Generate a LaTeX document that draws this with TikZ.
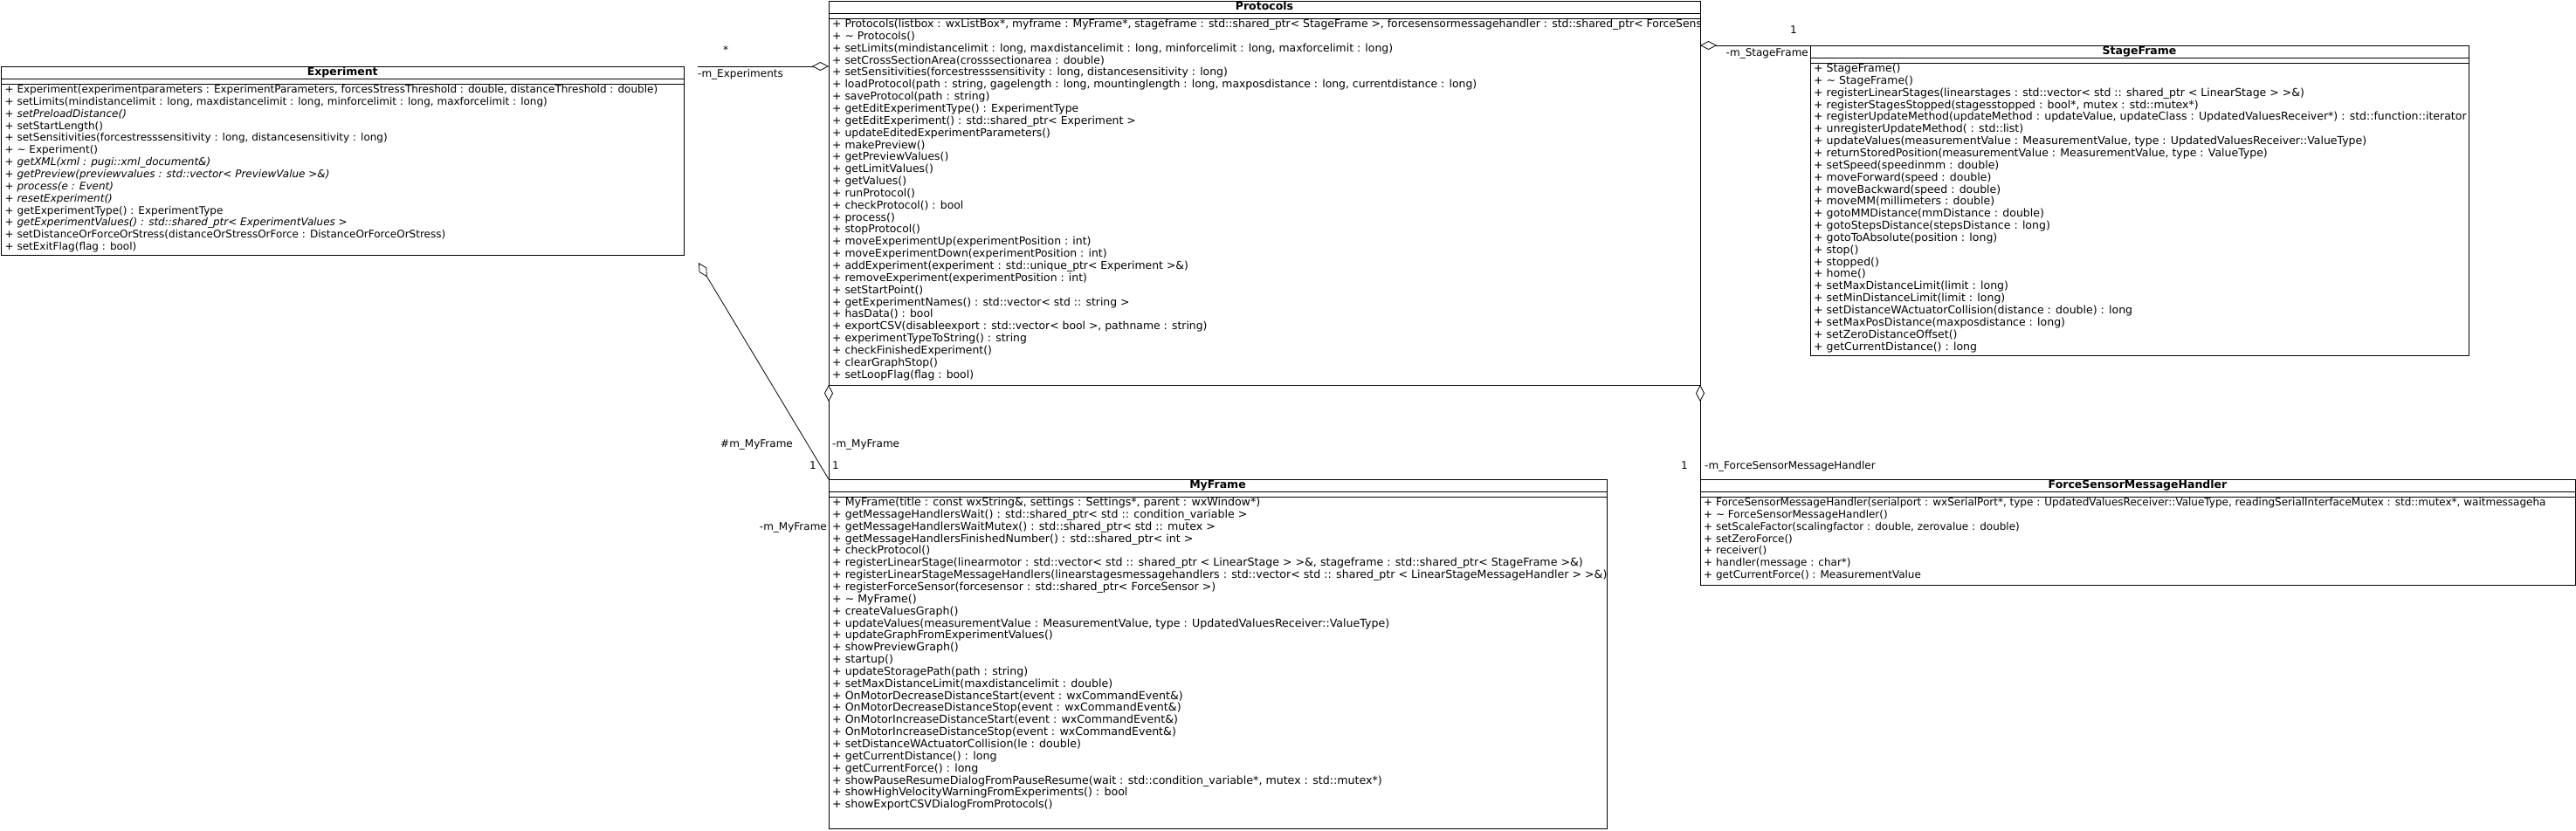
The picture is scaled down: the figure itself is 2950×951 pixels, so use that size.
\documentclass[tikz,border=0pt]{standalone}
\usepackage{fontspec}
\setmainfont{DejaVu Sans}
\usetikzlibrary{arrows.meta,fit}
\def\mfs{12}
\tikzset{
  classbox/.style={draw, line width=1pt, inner sep=0pt, outer sep=0pt, rectangle},
  sepline/.style={line width=1pt},
  mtext/.style={anchor=west, inner sep=0pt, text height=9pt, text depth=3pt, font=\fontsize{\mfs pt}{14pt}\selectfont},
  ctitle/.style={inner sep=0pt, text height=9pt, text depth=3pt, font=\fontsize{12.5pt}{14pt}\selectfont\bfseries},
  lbl/.style={inner sep=0pt, text height=9pt, text depth=3pt, font=\fontsize{12pt}{14pt}\selectfont},
  conn/.style={line width=0.8pt},
  agg/.style={conn, {Diamond[open, length=19pt, width=10pt]}-},
}
\newcommand\umlclass[7]{%
  \coordinate (#1-nw) at (#2,#3);
  \coordinate (#1-se) at (#4,#5);
  \node[classbox, fit=(#1-nw)(#1-se)] (#1) {};
  \draw[sepline] (#2,{#3+14}) -- (#4,{#3+14});
  \draw[sepline] (#2,{#3+20}) -- (#4,{#3+20});
  \node[ctitle] (#1-title) at ({(#2+#4)/2},{#3+7.5}) {#6};
  \begin{scope}
    \clip (#1-nw) rectangle (#1-se);
    \foreach \mt [count=\mi from 0] in {#7}
      \node[mtext] (#1-m\mi) at ({#2+4},{#3+27.5+13.85*\mi}) {\mt};
  \end{scope}
}
\begin{document}
\begin{tikzpicture}[x=1pt,y=-1pt]
\fill[white] (0,0) rectangle (2950,951);
\useasboundingbox (0,0) rectangle (2950,951);

\def\mfs{12}
\umlclass{exp}{1.5}{76}{783}{292}{Experiment}{%
{+ Experiment(experimentparameters : ExperimentParameters, forcesStressThreshold : double, distanceThreshold : double)},
{+ setLimits(mindistancelimit : long, maxdistancelimit : long, minforcelimit : long, maxforcelimit : long)},
{{\itshape + setPreloadDistance()}},
{+ setStartLength()},
{+ setSensitivities(forcestresssensitivity : long, distancesensitivity : long)},
{+ \textasciitilde{} Experiment()},
{{\itshape + getXML(xml : pugi::xml\_document\&)}},
{{\itshape + getPreview(previewvalues : std::vector< PreviewValue >\&)}},
{{\itshape + process(e : Event)}},
{{\itshape + resetExperiment()}},
{+ getExperimentType() : ExperimentType},
{{\itshape + getExperimentValues() : std::shared\_ptr< ExperimentValues >}},
{+ setDistanceOrForceOrStress(distanceOrStressOrForce : DistanceOrForceOrStress)},
{+ setExitFlag(flag : bool)}}

\def\mfs{12.4}
\umlclass{prot}{949}{1}{1947}{441}{Protocols}{%
{+ Protocols(listbox : wxListBox*, myframe : MyFrame*, stageframe : std::shared\_ptr< StageFrame >, forcesensormessagehandler : std::shared\_ptr< ForceSens},
{+ \textasciitilde{} Protocols()},
{+ setLimits(mindistancelimit : long, maxdistancelimit : long, minforcelimit : long, maxforcelimit : long)},
{+ setCrossSectionArea(crosssectionarea : double)},
{+ setSensitivities(forcestresssensitivity : long, distancesensitivity : long)},
{+ loadProtocol(path : string, gagelength : long, mountinglength : long, maxposdistance : long, currentdistance : long)},
{+ saveProtocol(path : string)},
{+ getEditExperimentType() : ExperimentType},
{+ getEditExperiment() : std::shared\_ptr< Experiment >},
{+ updateEditedExperimentParameters()},
{+ makePreview()},
{+ getPreviewValues()},
{+ getLimitValues()},
{+ getValues()},
{+ runProtocol()},
{+ checkProtocol() : bool},
{+ process()},
{+ stopProtocol()},
{+ moveExperimentUp(experimentPosition : int)},
{+ moveExperimentDown(experimentPosition : int)},
{+ addExperiment(experiment : std::unique\_ptr< Experiment >\&)},
{+ removeExperiment(experimentPosition : int)},
{+ setStartPoint()},
{+ getExperimentNames() : std::vector< std :: string >},
{+ hasData() : bool},
{+ exportCSV(disableexport : std::vector< bool >, pathname : string)},
{+ experimentTypeToString() : string},
{+ checkFinishedExperiment()},
{+ clearGraphStop()},
{+ setLoopFlag(flag : bool)}}

\def\mfs{12.5}
\umlclass{sf}{2073}{52}{2827}{407}{StageFrame}{%
{+ StageFrame()},
{+ \textasciitilde{} StageFrame()},
{+ registerLinearStages(linearstages : std::vector< std :: shared\_ptr < LinearStage > >\&)},
{+ registerStagesStopped(stagesstopped : bool*, mutex : std::mutex*)},
{+ registerUpdateMethod(updateMethod : updateValue, updateClass : UpdatedValuesReceiver*) : std::function::iterator},
{+ unregisterUpdateMethod( : std::list)},
{+ updateValues(measurementValue : MeasurementValue, type : UpdatedValuesReceiver::ValueType)},
{+ returnStoredPosition(measurementValue : MeasurementValue, type : ValueType)},
{+ setSpeed(speedinmm : double)},
{+ moveForward(speed : double)},
{+ moveBackward(speed : double)},
{+ moveMM(millimeters : double)},
{+ gotoMMDistance(mmDistance : double)},
{+ gotoStepsDistance(stepsDistance : long)},
{+ gotoToAbsolute(position : long)},
{+ stop()},
{+ stopped()},
{+ home()},
{+ setMaxDistanceLimit(limit : long)},
{+ setMinDistanceLimit(limit : long)},
{+ setDistanceWActuatorCollision(distance : double) : long},
{+ setMaxPosDistance(maxposdistance : long)},
{+ setZeroDistanceOffset()},
{+ getCurrentDistance() : long}}

\def\mfs{12.6}
\umlclass{myf}{949}{549}{1840}{949}{MyFrame}{%
{+ MyFrame(title : const wxString\&, settings : Settings*, parent : wxWindow*)},
{+ getMessageHandlersWait() : std::shared\_ptr< std :: condition\_variable >},
{+ getMessageHandlersWaitMutex() : std::shared\_ptr< std :: mutex >},
{+ getMessageHandlersFinishedNumber() : std::shared\_ptr< int >},
{+ checkProtocol()},
{+ registerLinearStage(linearmotor : std::vector< std :: shared\_ptr < LinearStage > >\&, stageframe : std::shared\_ptr< StageFrame >\&)},
{+ registerLinearStageMessageHandlers(linearstagesmessagehandlers : std::vector< std :: shared\_ptr < LinearStageMessageHandler > >\&)},
{+ registerForceSensor(forcesensor : std::shared\_ptr< ForceSensor >)},
{+ \textasciitilde{} MyFrame()},
{+ createValuesGraph()},
{+ updateValues(measurementValue : MeasurementValue, type : UpdatedValuesReceiver::ValueType)},
{+ updateGraphFromExperimentValues()},
{+ showPreviewGraph()},
{+ startup()},
{+ updateStoragePath(path : string)},
{+ setMaxDistanceLimit(maxdistancelimit : double)},
{+ OnMotorDecreaseDistanceStart(event : wxCommandEvent\&)},
{+ OnMotorDecreaseDistanceStop(event : wxCommandEvent\&)},
{+ OnMotorIncreaseDistanceStart(event : wxCommandEvent\&)},
{+ OnMotorIncreaseDistanceStop(event : wxCommandEvent\&)},
{+ setDistanceWActuatorCollision(le : double)},
{+ getCurrentDistance() : long},
{+ getCurrentForce() : long},
{+ showPauseResumeDialogFromPauseResume(wait : std::condition\_variable*, mutex : std::mutex*)},
{+ showHighVelocityWarningFromExperiments() : bool},
{+ showExportCSVDialogFromProtocols()}}

\def\mfs{12}
\umlclass{fsmh}{1947}{549}{2949}{670}{ForceSensorMessageHandler}{%
{+ ForceSensorMessageHandler(serialport : wxSerialPort*, type : UpdatedValuesReceiver::ValueType, readingSerialInterfaceMutex : std::mutex*, waitmessageha},
{+ \textasciitilde{} ForceSensorMessageHandler()},
{+ setScaleFactor(scalingfactor : double, zerovalue : double)},
{+ setZeroForce()},
{+ receiver()},
{+ handler(message : char*)},
{+ getCurrentForce() : MeasurementValue}}

% connectors
\coordinate (expR) at (799,76);
\coordinate (expD) at (800,301);
\draw[agg] (expR -| prot.west) -- (expR);
\draw[agg] (sf.north west -| prot.east) -- (sf.north west);
\draw[agg] (prot.south west) -- (myf.north west);
\draw[agg] (prot.south east) -- (fsmh.north west);
\draw[agg] (expD) -- (myf.north west);

% labels
\node[lbl] (lstar) at (831,58) {*};
\node[lbl, anchor=west] (lexp) at (799,85) {-m\_Experiments};
\node[lbl] (lsf1) at (2054,35) {1};
\node[lbl, anchor=east] (lsf) at (2071,61) {-m\_StageFrame};
\node[lbl, anchor=west] (lmf) at (953,509) {-m\_MyFrame};
\node[lbl] (lmf1) at (957,534) {1};
\node[lbl, anchor=east] (lhmf) at (908,509) {\#m\_MyFrame};
\node[lbl] (lhmf1) at (931,534) {1};
\node[lbl] (lfs1) at (1929,534) {1};
\node[lbl, anchor=west] (lfs) at (1952,534) {-m\_ForceSensorMessageHandler};
\node[lbl, anchor=east] (lmf2) at (947,604) {-m\_MyFrame};
\end{tikzpicture}
\end{document}
